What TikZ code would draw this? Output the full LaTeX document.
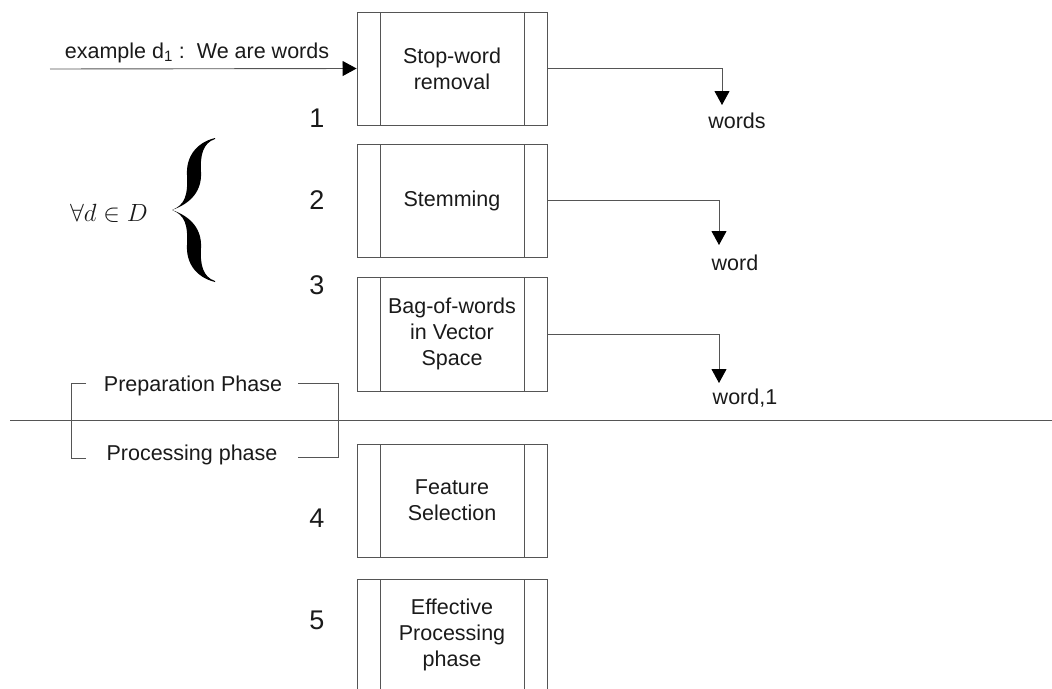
\documentclass[tikz,border=0pt]{standalone}
\usepackage{fontspec}
\setmainfont{Liberation Sans}
\usetikzlibrary{arrows.meta}
\definecolor{linegray}{HTML}{555555}
\definecolor{ink}{HTML}{1A1A1A}
\tikzset{
  procbox/.style={draw=linegray, line width=0.9pt, minimum width=190pt,
    inner sep=0pt, align=center, text=ink,
    font=\fontsize{21.5}{26}\selectfont,
    path picture={
      \draw[linegray, line width=0.9pt]
        ([xshift=23pt]path picture bounding box.north west) --
        ([xshift=23pt]path picture bounding box.south west)
        ([xshift=-23pt]path picture bounding box.north east) --
        ([xshift=-23pt]path picture bounding box.south east);
    }},
  conn/.style={draw=linegray, line width=0.9pt,
    -{Triangle[length=14pt,width=15pt,fill=black,color=black]}},
  lbl/.style={text=ink, inner sep=0pt, font=\fontsize{21.5}{26}\selectfont},
  num/.style={text=ink, inner sep=0pt, font=\fontsize{27}{32}\selectfont},
  rule/.style={draw=linegray, line width=0.9pt}
}
\begin{document}
\begin{tikzpicture}[x=1pt, y=-1pt]
\useasboundingbox (0,0) rectangle (1052,688);

% processing steps
\node[procbox, minimum height=113pt] (b1) at (452,68.5) {Stop-word\\removal};
\node[procbox, minimum height=113pt] (b2) at (452,200.5) {Stemming};
\node[procbox, minimum height=114pt] (b3) at (452,334) {Bag-of-words\\in Vector\\Space};
\node[procbox, minimum height=113pt] (b4) at (452,500.5) {Feature\\Selection};
\node[procbox, minimum height=111pt] (b5) at (452,634.5) {Effective\\Processing\\phase};

% step numbers
\node[num] (n1) at (317,118) {1};
\node[num] (n2) at (317,200) {2};
\node[num] (n3) at (317,285) {3};
\node[num] (n4) at (317,518) {4};
\node[num] (n5) at (317,620) {5};

% input document
\coordinate (in) at (50,69);
\node[lbl] (ex) at (197,53) {example d\textsubscript{1} :\ \ We are words};
\draw[conn] (in) -- (b1.west);

% intermediate outputs
\coordinate (t1) at (722,105);
\coordinate (t2) at (719,245);
\coordinate (t3) at (719,383);
\draw[conn] (b1.east) -| (t1);
\draw[conn] (b2.east) -| (t2);
\draw[conn] (b3.east) -| (t3);
\node[lbl] (o1) at (737,121) {words};
\node[lbl] (o2) at (735,263) {word};
\node[lbl] (o3) at (745,398) {word,1};

% quantifier with curly brace
\node[text=ink, inner sep=0pt, font=\fontsize{30}{34}\selectfont] (q) at (109,213) {$\forall d\in D$};
\fill[black] (215,138) .. controls (195,143) and (186,158) .. (187,175)
  .. controls (188,195) and (185,205) .. (172,210)
  .. controls (185,215) and (188,225) .. (187,245)
  .. controls (186,262) and (195,277) .. (215,282)
  -- (215,281) .. controls (203,277) and (200,265) .. (201,248)
  .. controls (202,230) and (192,217) .. (172,210)
  .. controls (192,203) and (202,190) .. (201,172)
  .. controls (200,155) and (203,143) .. (215,139) -- cycle;

% phase divider
\draw[rule] (10,420) -- (1052,420);
\node[lbl] (prep) at (193,386) {Preparation Phase};
\node[lbl] (proc) at (192,455) {Processing phase};
\draw[rule] (86,383) -| (71,458) -- (86,458);
\draw[rule] (298,383) -| (338,457) -- (298,457);
\end{tikzpicture}
\end{document}
